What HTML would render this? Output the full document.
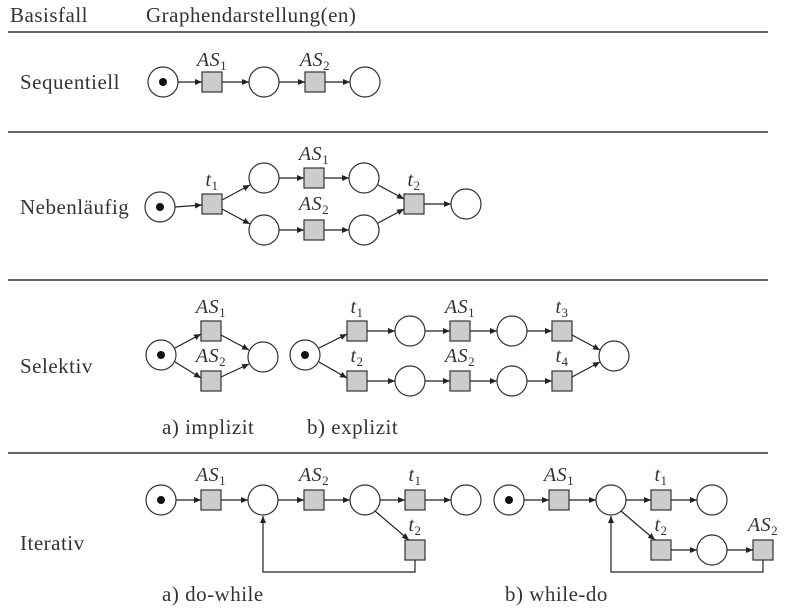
<!DOCTYPE html>
<html><head><meta charset="utf-8"><style>
html,body{margin:0;padding:0;background:#fff;}
svg{display:block;}
text{font-family:"Liberation Serif","DejaVu Serif",serif;fill:#333;font-size:21px;letter-spacing:0.5px;}
.m{font-style:italic;font-size:20px;text-anchor:middle;letter-spacing:0.5px;}
.s{font-size:13px;font-style:normal;}
</style></head><body>
<svg width="786" height="615" viewBox="0 0 786 615" xmlns="http://www.w3.org/2000/svg">
<defs><marker id="a" markerWidth="8" markerHeight="8" refX="7" refY="4" orient="auto" markerUnits="userSpaceOnUse"><path d="M0,1 L7,4 L0,7 z" fill="#222"/></marker></defs>
<g stroke="#333" stroke-width="1.6"><line x1="8" y1="32" x2="768" y2="32"/><line x1="8" y1="132" x2="768" y2="132"/><line x1="8" y1="280" x2="768" y2="280"/><line x1="8" y1="453" x2="768" y2="453"/></g>
<text x="10" y="22">Basisfall</text><text x="146" y="22">Graphendarstellung(en)</text>
<text x="20" y="89">Sequentiell</text><text x="20" y="214">Nebenläufig</text><text x="20" y="373">Selektiv</text><text x="20" y="550">Iterativ</text>
<text x="162" y="434">a) implizit</text><text x="307" y="434">b) explizit</text>
<text x="162" y="601">a) do-while</text><text x="505" y="601">b) while-do</text>
<g fill="#fff" stroke="#333" stroke-width="1.2">
<circle cx="163" cy="82" r="15"/><circle cx="264" cy="82" r="15"/><circle cx="365" cy="82" r="15"/>
<circle cx="160" cy="207" r="15"/><circle cx="264" cy="178" r="15"/><circle cx="364" cy="178" r="15"/><circle cx="264" cy="230" r="15"/><circle cx="364" cy="230" r="15"/><circle cx="466" cy="204" r="15"/>
<circle cx="161" cy="355" r="15"/><circle cx="263" cy="357" r="15"/><circle cx="305" cy="355" r="15"/><circle cx="410" cy="331" r="15"/><circle cx="512" cy="331" r="15"/><circle cx="410" cy="381" r="15"/><circle cx="512" cy="381" r="15"/><circle cx="614" cy="356" r="15"/>
<circle cx="161" cy="500" r="15"/><circle cx="263" cy="500" r="15"/><circle cx="365" cy="500" r="15"/><circle cx="466" cy="500" r="15"/>
<circle cx="509" cy="500" r="15"/><circle cx="611" cy="500" r="15"/><circle cx="712" cy="500" r="15"/><circle cx="712" cy="550" r="15"/>
</g>
<g fill="#111"><circle cx="163" cy="82" r="4"/><circle cx="160" cy="207" r="4"/><circle cx="161" cy="355" r="4"/><circle cx="305" cy="355" r="4"/><circle cx="161" cy="500" r="4"/><circle cx="509" cy="500" r="4"/></g>
<g fill="#ccc" stroke="#333" stroke-width="1.2">
<rect x="202" y="72" width="20" height="20"/><rect x="305" y="72" width="20" height="20"/>
<rect x="202" y="194" width="20" height="20"/><rect x="304" y="168" width="20" height="20"/><rect x="304" y="220" width="20" height="20"/><rect x="404" y="194" width="20" height="20"/>
<rect x="201" y="321" width="20" height="20"/><rect x="201" y="371" width="20" height="20"/>
<rect x="347" y="321" width="20" height="20"/><rect x="450" y="321" width="20" height="20"/><rect x="552" y="321" width="20" height="20"/>
<rect x="347" y="371" width="20" height="20"/><rect x="450" y="371" width="20" height="20"/><rect x="552" y="371" width="20" height="20"/>
<rect x="201" y="490" width="20" height="20"/><rect x="304" y="490" width="20" height="20"/><rect x="405" y="490" width="20" height="20"/><rect x="405" y="540" width="20" height="20"/>
<rect x="549" y="490" width="20" height="20"/><rect x="651" y="490" width="20" height="20"/><rect x="651" y="540" width="20" height="20"/><rect x="753" y="540" width="20" height="20"/>
</g>
<g stroke="#222" stroke-width="1.2" fill="none" marker-end="url(#a)">
<line x1="178" y1="82" x2="202" y2="82"/><line x1="222" y1="82" x2="249" y2="82"/><line x1="279" y1="82" x2="305" y2="82"/><line x1="325" y1="82" x2="350" y2="82"/>
<line x1="175" y1="207" x2="202" y2="205"/><line x1="222" y1="200" x2="250" y2="185"/><line x1="222" y1="209" x2="250" y2="224"/>
<line x1="279" y1="178" x2="304" y2="178"/><line x1="324" y1="178" x2="349" y2="178"/><line x1="279" y1="230" x2="304" y2="230"/><line x1="324" y1="230" x2="349" y2="230"/>
<line x1="378" y1="185" x2="404" y2="199"/><line x1="378" y1="223" x2="404" y2="209"/><line x1="424" y1="204" x2="451" y2="204"/>
<line x1="175" y1="348" x2="201" y2="334"/><line x1="175" y1="362" x2="201" y2="378"/><line x1="221" y1="335" x2="249" y2="350"/><line x1="221" y1="377" x2="249" y2="364"/>
<line x1="319" y1="348" x2="347" y2="334"/><line x1="319" y1="362" x2="347" y2="378"/>
<line x1="367" y1="331" x2="395" y2="331"/><line x1="425" y1="331" x2="450" y2="331"/><line x1="470" y1="331" x2="497" y2="331"/><line x1="527" y1="331" x2="552" y2="331"/>
<line x1="367" y1="381" x2="395" y2="381"/><line x1="425" y1="381" x2="450" y2="381"/><line x1="470" y1="381" x2="497" y2="381"/><line x1="527" y1="381" x2="552" y2="381"/>
<line x1="572" y1="335" x2="600" y2="350"/><line x1="572" y1="377" x2="600" y2="362"/>
<line x1="176" y1="500" x2="201" y2="500"/><line x1="221" y1="500" x2="248" y2="500"/><line x1="278" y1="500" x2="304" y2="500"/><line x1="324" y1="500" x2="350" y2="500"/><line x1="380" y1="500" x2="405" y2="500"/><line x1="425" y1="500" x2="451" y2="500"/>
<line x1="375" y1="511" x2="409" y2="540"/>
<polyline points="415,560 415,572 263,572 263,516"/>
<line x1="524" y1="500" x2="549" y2="500"/><line x1="569" y1="500" x2="596" y2="500"/><line x1="626" y1="500" x2="651" y2="500"/><line x1="671" y1="500" x2="697" y2="500"/>
<line x1="621" y1="511" x2="655" y2="540"/><line x1="671" y1="550" x2="697" y2="550"/><line x1="727" y1="550" x2="753" y2="550"/>
<polyline points="763,560 763,572 611,572 611,516"/>
</g>
<text class="m" x="212" y="66">AS<tspan class="s" dy="4">1</tspan></text><text class="m" x="315" y="66">AS<tspan class="s" dy="4">2</tspan></text>
<text class="m" x="314" y="160">AS<tspan class="s" dy="4">1</tspan></text><text class="m" x="314" y="210">AS<tspan class="s" dy="4">2</tspan></text>
<text class="m" x="212" y="186">t<tspan class="s" dy="4">1</tspan></text><text class="m" x="414" y="186">t<tspan class="s" dy="4">2</tspan></text>
<text class="m" x="211" y="313">AS<tspan class="s" dy="4">1</tspan></text><text class="m" x="211" y="362">AS<tspan class="s" dy="4">2</tspan></text>
<text class="m" x="357" y="313">t<tspan class="s" dy="4">1</tspan></text><text class="m" x="357" y="362">t<tspan class="s" dy="4">2</tspan></text>
<text class="m" x="460" y="313">AS<tspan class="s" dy="4">1</tspan></text><text class="m" x="460" y="362">AS<tspan class="s" dy="4">2</tspan></text>
<text class="m" x="562" y="313">t<tspan class="s" dy="4">3</tspan></text><text class="m" x="562" y="362">t<tspan class="s" dy="4">4</tspan></text>
<text class="m" x="211" y="481">AS<tspan class="s" dy="4">1</tspan></text><text class="m" x="314" y="481">AS<tspan class="s" dy="4">2</tspan></text>
<text class="m" x="415" y="481">t<tspan class="s" dy="4">1</tspan></text><text class="m" x="415" y="531">t<tspan class="s" dy="4">2</tspan></text>
<text class="m" x="559" y="481">AS<tspan class="s" dy="4">1</tspan></text><text class="m" x="661" y="481">t<tspan class="s" dy="4">1</tspan></text>
<text class="m" x="661" y="531">t<tspan class="s" dy="4">2</tspan></text><text class="m" x="763" y="531">AS<tspan class="s" dy="4">2</tspan></text>
</svg>
</body></html>
